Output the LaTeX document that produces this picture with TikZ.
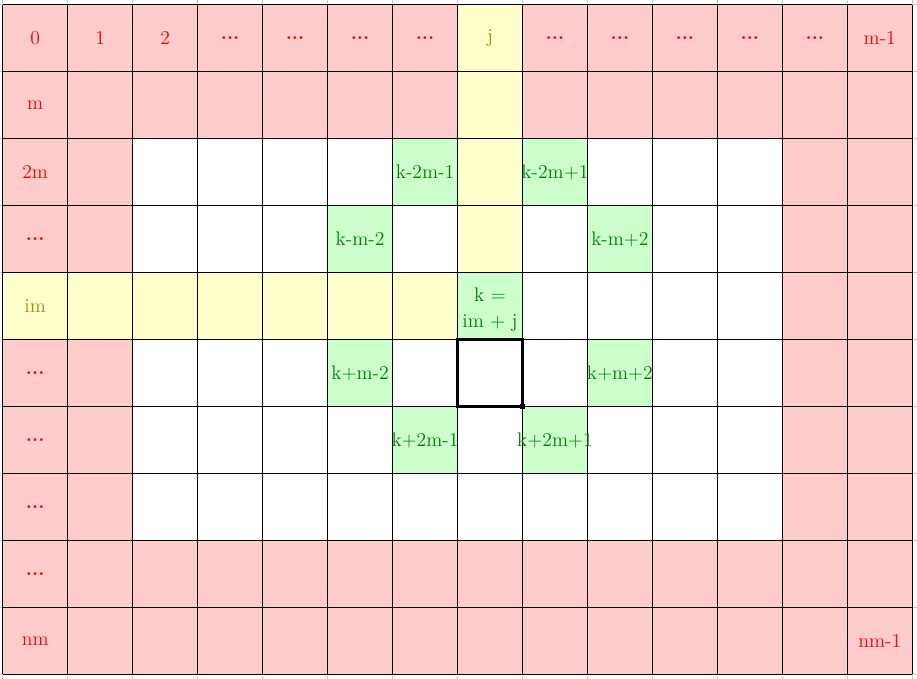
\documentclass[tikz,border=0pt]{standalone}
\definecolor{cellpink}{RGB}{255,204,204}
\definecolor{cellyellow}{RGB}{255,255,204}
\definecolor{cellgreen}{RGB}{204,255,204}
\definecolor{txtyellow}{RGB}{175,135,20}
\definecolor{txtgreen}{RGB}{0,128,0}
\tikzset{
  lab/.style={font=\fontsize{11.2}{15}\selectfont, inner sep=0pt, align=center},
  redlab/.style={lab, text=red},
  yellab/.style={lab, text=txtyellow},
  grnlab/.style={lab, text=txtgreen},
  gridline/.style={line width=0.6pt, black},
  helpline/.style={line width=0.4pt, gray!45}
}
\begin{document}
\begin{tikzpicture}
\useasboundingbox (0,0) rectangle (18.34,-13.56);
\begin{scope}
\clip (0,0) rectangle (18.34,-13.56);
\begin{scope}[shift={(0.054,-0.094)}, x=1.2994cm, y=-1.3392cm]
  % faint help grid
  \foreach \c in {0,...,14} \draw[helpline] (\c,-1) -- (\c,11);
  \foreach \r in {0,...,10} \draw[helpline] (-1,\r) -- (15,\r);
  % fills
  \fill[cellpink] (0,0) rectangle (14,10);
  \fill[white] (2,2) rectangle (12,8);
  \fill[cellyellow] (7,0) rectangle (8,4);
  \fill[cellyellow] (0,4) rectangle (7,5);
  \foreach \c/\r in {6/2,8/2,5/3,9/3,7/4,5/5,9/5,6/6,8/6}
    \fill[cellgreen] (\c,\r) rectangle ++(1,1);
  % main grid
  \foreach \c in {0,...,14} \draw[gridline] (\c,0) -- (\c,10);
  \foreach \r in {0,...,10} \draw[gridline] (0,\r) -- (14,\r);
  % highlighted cell
  \draw[line width=1.2pt] (7,5) rectangle (8,6);
  \node[fill=black, minimum size=2.4pt, inner sep=0pt] (dot) at (8,6) {};
  % top row labels
  \node[redlab] (t0) at (0.5,0.5) {0};
  \node[redlab] (t1) at (1.5,0.5) {1};
  \node[redlab] (t2) at (2.5,0.5) {2};
  \foreach \c in {3,4,5,6,8,9,10,11,12}
    \node[redlab] (t\c) at (\c+0.5,0.5) {\textbf{...}};
  \node[yellab] (tj) at (7.5,0.5) {j};
  \node[redlab] (t13) at (13.5,0.5) {m-1};
  % left column labels
  \node[redlab] (l1) at (0.5,1.5) {m};
  \node[redlab] (l2) at (0.5,2.5) {2m};
  \node[redlab] (l3) at (0.5,3.5) {\textbf{...}};
  \node[yellab] (l4) at (0.5,4.5) {im};
  \node[redlab] (l5) at (0.5,5.5) {\textbf{...}};
  \node[redlab] (l6) at (0.5,6.5) {\textbf{...}};
  \node[redlab] (l7) at (0.5,7.5) {\textbf{...}};
  \node[redlab] (l8) at (0.5,8.5) {\textbf{...}};
  \node[redlab] (l9) at (0.5,9.5) {nm};
  \node[redlab] (b13) at (13.5,9.5) {nm-1};
  % neighbour labels
  \node[grnlab] (n1) at (6.5,2.5) {k-2m-1};
  \node[grnlab] (n2) at (8.5,2.5) {k-2m+1};
  \node[grnlab] (n3) at (5.5,3.5) {k-m-2};
  \node[grnlab] (n4) at (9.5,3.5) {k-m+2};
  \node[grnlab] (k) at (7.5,4.55) {k =\\im + j};
  \node[grnlab] (n5) at (5.5,5.5) {k+m-2};
  \node[grnlab] (n6) at (9.5,5.5) {k+m+2};
  \node[grnlab] (n7) at (6.5,6.5) {k+2m-1};
  \node[grnlab] (n8) at (8.5,6.5) {k+2m+1};
\end{scope}
\end{scope}
\end{tikzpicture}
\end{document}
